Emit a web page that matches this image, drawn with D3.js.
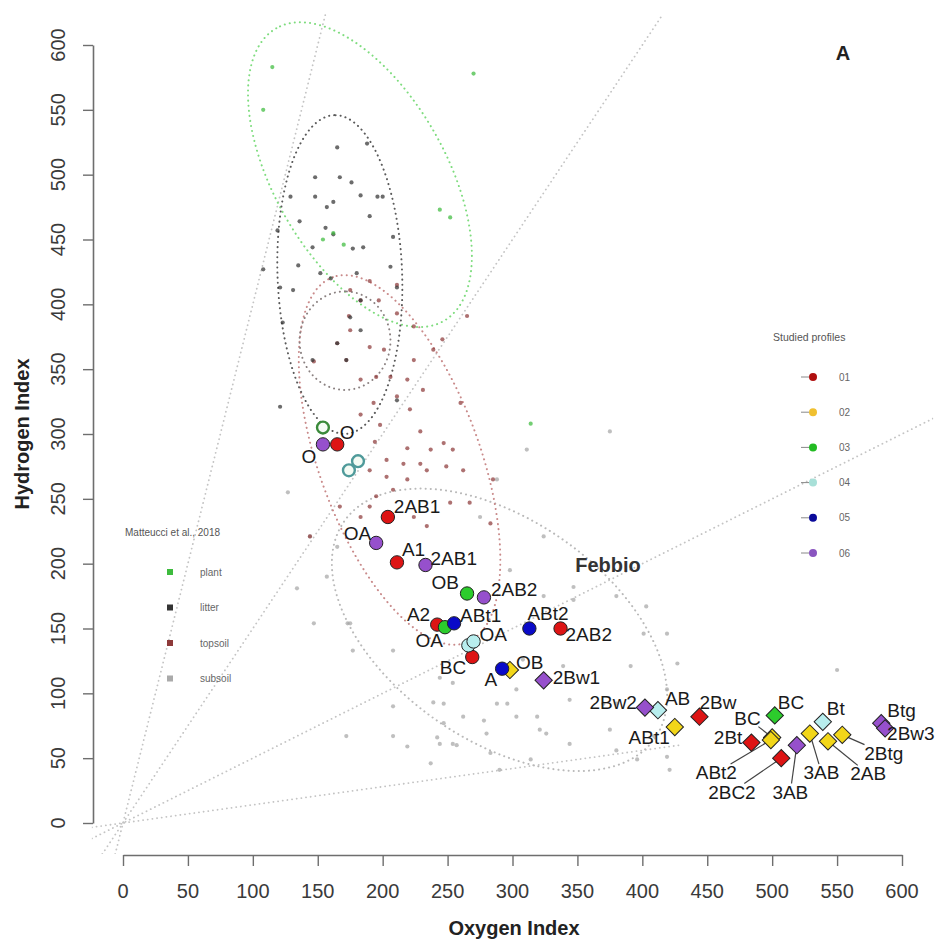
<!DOCTYPE html>
<html>
<head>
<meta charset="utf-8">
<script src="https://cdn.jsdelivr.net/npm/d3@7"></script>
<style>
body{margin:0;background:#fff}
text{font-family:"Liberation Sans",Arial,Helvetica,sans-serif}
</style>
</head>
<body>
<svg></svg>
<script>
// Matteucci et al. 2018 reference samples (OI, HI)
var plantPts=[[115,583],[108,550],[270,578],[244,473],[252,467],[162,455],[154,450],[314,308],[170,446]]
var litterPts=[[165,521],[188,524],[148,498],[167,498],[176,494],[129,483],[148,483],[183,484],[196,483],[200,483],[162,479],[157,475],[136,464],[156,459],[162,454],[146,444],[177,443],[185,444],[208,452],[119,457],[108,427],[135,430],[152,424],[180,424],[206,429],[121,413],[211,413],[131,411],[183,403],[175,390],[183,380],[146,357],[172,357],[165,370],[121,321],[211,326],[160,420],[190,468],[123,386]]
var topsoilPts=[[190,418],[211,415],[175,411],[197,403],[183,403],[174,391],[211,393],[224,383],[265,391],[175,380],[165,370],[190,367],[201,365],[246,373],[224,357],[172,357],[147,356],[206,344],[195,344],[183,342],[219,342],[231,334],[239,365],[193,324],[211,329],[221,319],[260,324],[183,315],[198,307],[229,302],[247,293],[254,288],[194,294],[219,289],[237,288],[203,280],[216,277],[229,277],[190,272],[203,267],[219,265],[208,257],[195,252],[234,272],[249,275],[262,272],[285,265],[267,247],[252,247],[190,244],[224,236],[234,229],[183,236],[167,244],[144,221],[283,231]]
var subsoilPts=[[324,221],[347,182],[380,175],[403,167],[165,213],[175,154],[303,103],[288,92],[319,82],[344,61],[375,72],[391,121],[419,103],[427,123],[278,79],[254,61],[254,108],[172,67],[290,41],[237,46],[314,49],[380,92],[409,67],[298,195],[275,236],[288,265],[127,255],[144,221],[157,190],[134,181],[173,154],[208,133],[244,112],[242,66],[257,60],[239,93],[147,154],[177,133],[208,90],[208,67],[219,59],[247,92],[247,77],[262,82],[280,69],[283,54],[244,61],[296,92],[321,72],[339,121],[324,175],[347,172],[308,126],[401,146],[419,146],[370,92],[344,95],[303,82],[326,69],[380,56],[421,41],[550,118],[396,49],[419,51],[311,288],[375,302]]

// confidence ellipses: centre OI, centre HI, semi axis a, semi axis b, angle
var ellPlant=[182.5,500,130,66,119.7]
var ellLitter=[167,423,123,48,92]
var ellLitterCore=[171,372,38,35,90]
var ellTopsoil=[213,280,150,62,110]
var ellSubsoil=[290,149,146,85,-35]

// HI/OI ratio lines
var ratioSlopes=[4,1.5,0.5,0.14]

// studied profiles
var profiles=["01","02","03","04","05","06"]
var p01Hz=["O","2AB1","A1","A2","BC","2AB2","2Bw","2Bt","2BC2"]
var p01OI=[165,204,211,242,269,337,444,484,507]
var p01HI=[292,236,201,153,128,150,82,62,50]
var p02Hz=["OB","ABt1","BC","ABt2","3AB","2AB","2Btg"]
var p02OI=[298,425,500,499,529,543,554]
var p02HI=[118,74,66,64,69,63,68]
var p03Hz=["O","OB","OA","BC"]
var p03OI=[154,265,248,502]
var p03HI=[305,177,151,83]
var p04Hz=["O","O","OA","OA","AB","Bt"]
var p04OI=[181,174,266,270,412,539]
var p04HI=[279,272,137,140,87,78]
var p05Hz=["ABt1","ABt2","A"]
var p05OI=[255,313,292]
var p05HI=[154,150,119]
var p06Hz=["O","OA","2AB1","2AB2","2Bw1","2Bw2","3AB","Btg","2Bw3"]
var p06OI=[154,195,233,278,324,402,519,584,587]
var p06HI=[292,216,199,174,110,89,60,77,73]

// marker kind per point (c circle, d diamond, o open ring)
var markKind={
 "01":["c","c","c","c","c","c","d","d","d"],
 "02":["d","d","d","d","d","d","d"],
 "03":["o","c","c","d"],
 "04":["o","o","c","c","d","d"],
 "05":["c","c","c"],
 "06":["c","c","c","c","d","d","d","d","d"]
}
// label placement: [anchor, dx, dy] in px, ["lead", labelOI, labelHI], or null (no label)
var labelPlace={
 "01":[["middle",10,-12],["start",6,-11],["start",5,-13],["end",-7,-10],["end",-6,10],["start",5,6],["start",0,-14],["end",-9,-5],["lead",469,24]],
 "02":[["start",6,-8],["end",-5,10],["lead",481,81],["lead",457,39],["lead",538,39],["lead",574,38],["lead",586,54]],
 "03":[null,["end",-8,-11],["end",-2,13],["start",3,-13]],
 "04":[null,null,null,["start",6,-7],["start",7,-12],["start",4,-14]],
 "05":[["start",6,-8],["start",-2,-15],["end",-5,11]],
 "06":[["middle",-14,12],["end",-5,-10],["start",5,-7],["start",7,-8],["start",9,-3],["end",-8,-5],["lead",514,24],["start",6,-13],["start",2,5]]
}
var profColor={"01":"#dd1414","02":"#f2d619","03":"#2ccc2c","04":"#b8eeee","05":"#0a0ac8","06":"#9650cc"}
var ringColor={"03":"#3a8a3a","04":"#4f9a9a"}
var legendColor={"01":"#b01010","02":"#f0c030","03":"#22bb22","04":"#a8e0d8","05":"#0a0a9a","06":"#8a55c0"}

var groupNames=["plant","litter","topsoil","subsoil"]
var groupColor={plant:"#3dbb3d",litter:"#333",topsoil:"#8e3a3a",subsoil:"#aaa"}

var screen={width:938,height:940}
var svg=d3.select("svg").attr("width",screen.width).attr("height",screen.height)

var xScale=d3.scaleLinear().domain([0,600]).range([123,902])
var yScale=d3.scaleLinear().domain([0,600]).range([823,45])

var plotL=xScale(-24),plotR=xScale(624),plotT=yScale(624),plotB=yScale(-24)

svg.append("clipPath").attr("id","plotclip")
 .append("rect").attr("x",plotL).attr("y",plotT).attr("width",plotR-plotL).attr("height",plotB-plotT)

var plot=svg.append("g").attr("clip-path","url(#plotclip)")

// ratio lines through origin
var lineEnd=[624,624,624,430]
ratioSlopes.forEach(function(s,i){
 var x0=-24,y0=s*x0
 if(y0<-24){x0=-24/s;y0=-24}
 var x1=lineEnd[i],y1=s*x1
 if(y1>624){x1=624/s;y1=624}
 plot.append("line")
  .attr("x1",xScale(x0)).attr("y1",yScale(y0))
  .attr("x2",xScale(x1)).attr("y2",yScale(y1))
  .attr("stroke","#c4c4c4").attr("stroke-width",1.8)
  .attr("stroke-dasharray","0.1 4.6").attr("stroke-linecap","round")
})

var ellipsePts=function(e){
 var th=e[4]*Math.PI/180
 return d3.range(0,360,2).map(function(deg){
  var t=deg*Math.PI/180
  return [e[0]+e[2]*Math.cos(t)*Math.cos(th)-e[3]*Math.sin(t)*Math.sin(th),
          e[1]+e[2]*Math.cos(t)*Math.sin(th)+e[3]*Math.sin(t)*Math.cos(th)]
 })
}
var ellLine=d3.line().x(function(d){return xScale(d[0])}).y(function(d){return yScale(d[1])}).curve(d3.curveLinearClosed)

var ellipses=[[ellSubsoil,"#b9b9b9"],[ellTopsoil,"#c98a8a"],[ellPlant,"#7edc7e"],[ellLitter,"#5a5a5a"],[ellLitterCore,"#8a8080"]]
ellipses.forEach(function(e){
 plot.append("path").attr("d",ellLine(ellipsePts(e[0])))
  .attr("fill","none").attr("stroke",e[1]).attr("stroke-width",2)
  .attr("stroke-dasharray","0.1 5").attr("stroke-linecap","round")
})

// reference sample points
var bg=[["subsoil",subsoilPts],["topsoil",topsoilPts],["litter",litterPts],["plant",plantPts]]
bg.forEach(function(g){
 plot.append("g").selectAll("circle").data(g[1]).enter().append("circle")
  .attr("cx",function(d){return xScale(d[0])})
  .attr("cy",function(d){return yScale(d[1])})
  .attr("r",2.1)
  .attr("fill",groupColor[g[0]])
  .attr("opacity",g[0]=="subsoil"?0.75:0.72)
})

// axes
var xAxis=d3.axisBottom(xScale).tickValues(d3.range(0,601,50)).tickSize(11).tickSizeOuter(0).tickFormat("")
var gx=svg.append("g").attr("transform","translate(0,855)").call(xAxis)
var yAxis=d3.axisLeft(yScale).tickValues(d3.range(0,601,50)).tickSize(10).tickSizeOuter(0).tickFormat("")
var gy=svg.append("g").attr("transform","translate(93,0)").call(yAxis)
svg.selectAll(".domain").attr("stroke","#6e6e6e").attr("stroke-width",1.6)
svg.selectAll(".tick line").attr("stroke","#6e6e6e").attr("stroke-width",1.4)

svg.append("g").selectAll("text").data(d3.range(0,601,50)).enter().append("text")
 .attr("x",function(d){return xScale(d)}).attr("y",890.5).attr("dy","0.35em")
 .attr("text-anchor","middle").attr("font-size",20).attr("fill","#3a3a3a")
 .text(function(d){return d})
svg.append("g").selectAll("text").data(d3.range(0,601,50)).enter().append("text")
 .attr("transform",function(d){return "translate(58,"+yScale(d)+") rotate(-90)"})
 .attr("dy","0.35em").attr("text-anchor","middle").attr("font-size",20).attr("fill","#3a3a3a")
 .text(function(d){return d})

svg.append("text").attr("x",514).attr("y",928).attr("dy","0.35em").attr("text-anchor","middle")
 .attr("font-size",20).attr("font-weight","bold").attr("fill","#222").text("Oxygen Index")
svg.append("text").attr("transform","translate(22,434) rotate(-90)").attr("dy","0.35em").attr("text-anchor","middle")
 .attr("font-size",20).attr("font-weight","bold").attr("fill","#222").text("Hydrogen Index")
svg.append("text").attr("x",843).attr("y",53).attr("dy","0.35em").attr("text-anchor","middle")
 .attr("font-size",20).attr("font-weight","bold").attr("fill","#222").text("A")
svg.append("text").attr("x",608).attr("y",565).attr("dy","0.35em").attr("text-anchor","middle")
 .attr("font-size",20).attr("font-weight","bold").attr("fill","#333").text("Febbio")

// studied profile table
var hzs={"01":p01Hz,"02":p02Hz,"03":p03Hz,"04":p04Hz,"05":p05Hz,"06":p06Hz}
var ois={"01":p01OI,"02":p02OI,"03":p03OI,"04":p04OI,"05":p05OI,"06":p06OI}
var his={"01":p01HI,"02":p02HI,"03":p03HI,"04":p04HI,"05":p05HI,"06":p06HI}
var studied=[]
profiles.forEach(function(p){
 hzs[p].forEach(function(h,i){
  studied.push({prof:p,hz:h,oi:ois[p][i],hi:his[p][i],kind:markKind[p][i],place:labelPlace[p][i]})
 })
})

var leadG=svg.append("g")
var markG=svg.append("g")
var labG=svg.append("g")

markG.selectAll("path").data(studied).enter().append("path")
 .attr("transform",function(d){
  var t="translate("+xScale(d.oi)+","+yScale(d.hi)+")"
  return d.kind=="d"?t+" rotate(45)":t
 })
 .attr("d",function(d){
  if(d.kind=="d")return d3.symbol(d3.symbolSquare,150)()
  if(d.kind=="o")return d3.symbol(d3.symbolCircle,110)()
  return d3.symbol(d3.symbolCircle,140)()
 })
 .attr("fill",function(d){return d.kind=="o"?"#f4fbf4":profColor[d.prof]})
 .attr("stroke",function(d){return d.kind=="o"?ringColor[d.prof]:"#222"})
 .attr("stroke-width",function(d){return d.kind=="o"?2.4:1})

studied.forEach(function(d){
 var pl=d.place
 if(!pl)return
 var px=xScale(d.oi),py=yScale(d.hi)
 var t=labG.append("text").attr("font-size",19).attr("fill","#1a1a1a").attr("dy","0.35em").text(d.hz)
 if(pl[0]=="lead"){
  var lx=xScale(pl[1]),ly=yScale(pl[2])
  t.attr("x",lx).attr("y",ly).attr("text-anchor","middle")
  var bb=t.node().getBBox()
  var cx=bb.x+bb.width/2,cy=bb.y+bb.height/2
  var dx=px-cx,dy=py-cy
  var k=Math.min((bb.width/2+1)/Math.abs(dx||1e-6),(bb.height/2-2)/Math.abs(dy||1e-6))
  leadG.append("line").attr("x1",cx+k*dx).attr("y1",cy+k*dy).attr("x2",px).attr("y2",py)
   .attr("stroke","#444").attr("stroke-width",1.2)
 } else {
  t.attr("x",px+pl[1]).attr("y",py+pl[2]).attr("text-anchor",pl[0])
 }
})

// legend: reference data
var legL=svg.append("g")
legL.append("text").attr("x",125).attr("y",532).attr("dy","0.35em").attr("font-size",10).attr("fill","#555").text("Matteucci et al., 2018")
groupNames.forEach(function(g,i){
 var yy=572+i*35.5
 legL.append("rect").attr("x",167).attr("y",yy-3).attr("width",6).attr("height",6).attr("fill",groupColor[g])
 legL.append("text").attr("x",200).attr("y",yy).attr("dy","0.35em").attr("font-size",10).attr("fill","#666").text(g)
})

// legend: studied profiles
var legR=svg.append("g")
legR.append("text").attr("x",773).attr("y",337).attr("dy","0.35em").attr("font-size",10.5).attr("fill","#555").text("Studied profiles")
profiles.forEach(function(p,i){
 var yy=377+i*35.2
 legR.append("line").attr("x1",801).attr("x2",809).attr("y1",yy).attr("y2",yy).attr("stroke","#888").attr("stroke-width",1)
 legR.append("circle").attr("cx",813).attr("cy",yy).attr("r",4).attr("fill",legendColor[p])
 legR.append("text").attr("x",839).attr("y",yy).attr("dy","0.35em").attr("font-size",10).attr("fill","#666").text(p)
})
</script>
</body>
</html>
